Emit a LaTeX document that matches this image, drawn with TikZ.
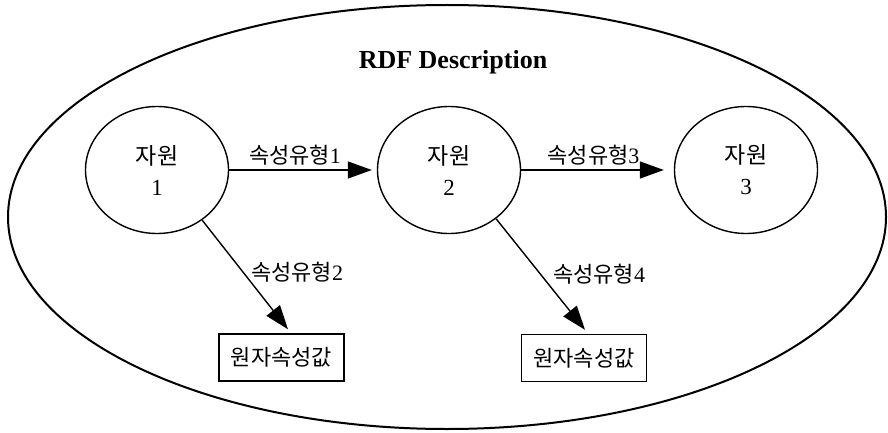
\documentclass[tikz,border=0pt]{standalone}
\usepackage{fontspec}
\setmainfont{Liberation Serif}
\newfontfamily\kr{Noto Sans CJK KR}
\usetikzlibrary{shapes.geometric, arrows.meta, positioning}

\begin{document}
\begin{tikzpicture}[
        x=0.5pt, y=-0.5pt,
        res/.style={ellipse, draw, line width=0.7pt, inner sep=0pt, minimum width=71.5pt, minimum height=63.5pt, align=center, font=\fontsize{11.5}{15.5}\selectfont},
        val/.style={rectangle, draw, line width=0.7pt, minimum width=62.5pt, minimum height=23.5pt, font=\kr\fontsize{11}{13}\selectfont},
        prop/.style={font=\fontsize{11}{13}\selectfont, inner sep=2pt},
        line/.style={draw, line width=0.7pt, -{Triangle[length=12pt,width=8.5pt]}}
    ]
    \useasboundingbox (0,0) rectangle (888,433);

    % nodes
    \node[ellipse, draw, line width=1pt, minimum width=439pt, minimum height=212pt] (rdf) at (447,217) {};
    \node[font=\bfseries\fontsize{13}{15}\selectfont] (desc) at (453,62) {RDF Description};
    \node[res] (res1) at (157,170) {{\kr 자원}\\1};
    \node[res] (res2) at (449,170) {{\kr 자원}\\2};
    \node[res] (res3) at (746,170) {{\kr 자원}\\3};
    \node[val] (val1) at (281.5,357.5) {원자속성값};
    \node[val] (val2) at (584,358) {원자속성값};

    % lines
    \path[line, shorten >=2.5pt] (res1.east) -- (res2.west) node[prop, midway, above, xshift=-4pt]{{\kr 속성유형}1};
    \path[line, shorten >=5pt] (res2.east) -- (res3.west) node[prop, midway, above, xshift=-2pt]{{\kr 속성유형}3};
    \path[line] (res1.-48) -- ([xshift=3.25pt, yshift=2pt]val1.north) node[prop, pos=0.48, right, xshift=1.5pt]{{\kr 속성유형}2};
    \path[line] (res2.-46) -- ([xshift=0.5pt, yshift=2pt]val2.north) node[prop, pos=0.5, right, xshift=4pt]{{\kr 속성유형}4};

\end{tikzpicture}
\end{document}
